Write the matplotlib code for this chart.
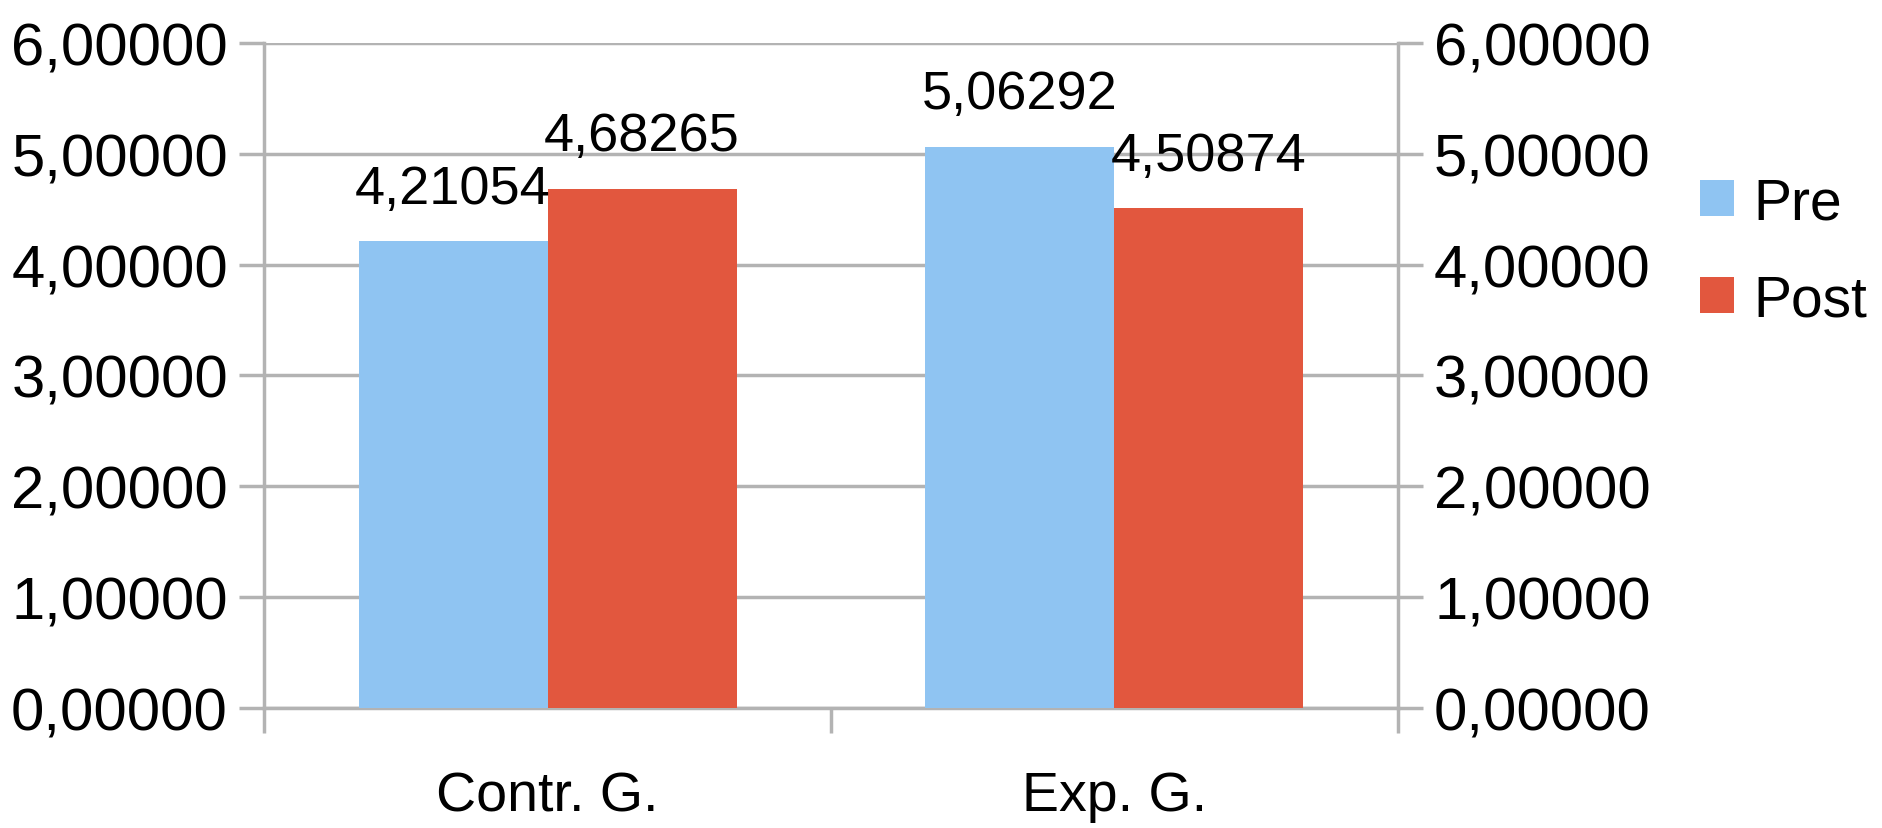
import matplotlib
matplotlib.use('Agg')
import matplotlib.pyplot as plt
import numpy as np

# group means before and after
groups = ['Contr. G.', 'Exp. G.']
pre_values = [4.21054, 5.06292]
post_values = [4.68265, 4.50874]
series_names = ['Pre', 'Post']
y_ticks = [0, 1, 2, 3, 4, 5, 6]

BLUE = '#8fc4f2'
RED = '#e2573e'
GRID = '#b3b3b3'

plt.rcParams['font.family'] = ['Liberation Sans', 'DejaVu Sans']


def comma_fmt(v):
    return f"{v:.5f}".replace('.', ',')


fig = plt.figure(figsize=(18.82, 8.29), dpi=100)
ax = fig.add_axes([0.1403, 0.1448, 0.6025, 0.8021])

x = np.arange(len(groups))
width = 1 / 3
bars_pre = ax.bar(x - width / 2, pre_values, width, color=BLUE, label=series_names[0], zorder=3)
bars_post = ax.bar(x + width / 2, post_values, width, color=RED, label=series_names[1], zorder=3)

ax.bar_label(bars_pre, labels=[comma_fmt(v) for v in pre_values], padding=20, fontsize=39)
ax.bar_label(bars_post, labels=[comma_fmt(v) for v in post_values], padding=20, fontsize=39)

ax.set_xlim(-0.5, len(groups) - 0.5)
ax.set_ylim(0, 6)
ax.set_yticks(y_ticks)
ax.set_yticklabels([comma_fmt(v) for v in y_ticks])
ax.yaxis.grid(True, color=GRID, linewidth=2.5, zorder=0)
ax.set_axisbelow(True)

# category ticks sit on the group boundaries, labels in the middle
ax.set_xticks(np.arange(-0.5, len(groups), 1.0))
ax.set_xticklabels([])
ax.set_xticks(x, minor=True)
ax.set_xticklabels(groups, minor=True, fontsize=40)
ax.tick_params(axis='x', which='minor', length=0, pad=45)
ax.tick_params(axis='x', which='major', direction='out', length=18, width=2.5, color=GRID)

ax.tick_params(axis='y', direction='out', length=18, width=2.5, color=GRID,
               labelsize=43, pad=8, left=True, right=True, labelright=True)

for side in ['left', 'right', 'bottom']:
    ax.spines[side].set_color(GRID)
    ax.spines[side].set_linewidth(2.5)
ax.spines['top'].set_visible(False)

fig.legend(handles=[bars_pre, bars_post], labels=series_names, loc='center left',
           bbox_to_anchor=(0.9033, 0.695), frameon=False, fontsize=41,
           handlelength=0.6, handleheight=0.6, handletextpad=0.33,
           labelspacing=0.75, borderpad=0, borderaxespad=0)

fig.savefig('out.png', dpi=100, facecolor='white')
